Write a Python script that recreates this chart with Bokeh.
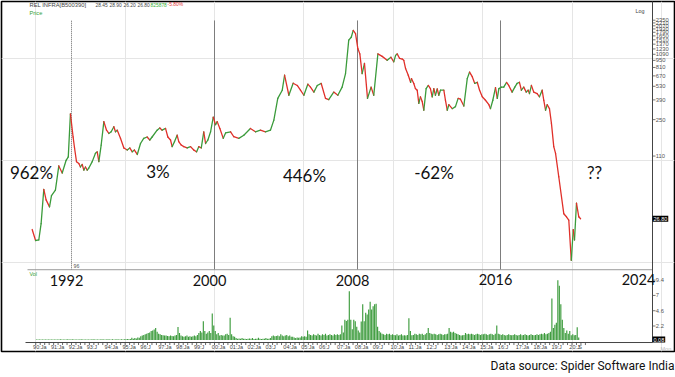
import math
from bokeh.plotting import figure
from bokeh.models import Range1d, LinearScale, Label, Title
from bokeh.core.properties import value
from bokeh.embed import file_html
from bokeh.resources import INLINE

# ---------------- data ----------------
header_name = "REL INFRA[B500390]"
header_values = ["28.45", "28.90", "26.20", "26.80", "825878", "-5.80%"]

period_bounds = [1992, 2000, 2008, 2016]
year_labels = ["1992", "2000", "2008", "2016", "2024"]
year_label_years = [1992, 2000, 2008, 2016, 2024]
period_labels = ["962%", "3%", "446%", "-62%", "??"]

price_ticks = [110, 250, 390, 530, 670, 810, 950, 1090, 1230, 1370, 1510, 1650, 1790, 1930, 2070, 2210, 2350]
vol_ticks = [2.2, 4.6, 7, 9.4]
vol_last = 0.08

date_label_years = list(range(1990, 2021))
date_labels = ["90:Ja", "91:Ja", "92:Ja", "93:J", "94:Ja", "95:Ja", "96:J", "97:Ja", "98:Ja", "99:J",
               "00:Ja", "01:Ja", "02:Ja", "03:J", "04:Ja", "05:Ja", "06:J", "07:Ja", "08:Ja", "09:J",
               "10:Ja", "11:Ja", "12:J", "13:Ja", "14:Ja", "15:Ja", "16:J", "17:Ja", "18:Ja", "19:J", "20:J"]

# price (decimal year, price)
price_t_a = [1989.80, 1989.99, 1990.17, 1990.30, 1990.45, 1990.58, 1990.77, 1990.88, 1991.10, 1991.29,
             1991.48, 1991.70, 1991.82, 1991.94, 1992.09, 1992.17, 1992.28, 1992.41, 1992.50, 1992.60,
             1992.69, 1992.78, 1992.88, 1992.97, 1993.16, 1993.34, 1993.44, 1993.53, 1993.66, 1993.81,
             1993.96, 1994.09, 1994.22, 1994.37, 1994.46, 1994.56, 1994.74, 1994.93, 1995.12, 1995.26,
             1995.40, 1995.52, 1995.68, 1995.86, 1996.04, 1996.23, 1996.38, 1996.51, 1996.79, 1996.94,
             1997.07, 1997.26, 1997.39, 1997.54, 1997.63, 1997.76, 1997.91, 1998.00, 1998.14, 1998.28,
             1998.47, 1998.66, 1998.84, 1999.00, 1999.12, 1999.26, 1999.40, 1999.50, 1999.63, 1999.78,
             1999.93]
price_v_a = [21, 16.4, 16.6, 24, 52, 41, 35, 45, 51, 88,
             75, 100, 108, 285, 169, 132, 97, 93, 86, 91,
             80, 86, 80, 84, 97, 117, 121, 97, 141, 239,
             197, 183, 190, 213, 190, 197, 164, 132, 126, 132,
             121, 126, 114, 146, 164, 169, 158, 169, 197, 207,
             197, 205, 169, 158, 136, 152, 176, 152, 141, 136,
             132, 136, 126, 121, 136, 132, 190, 146, 158, 190,
             264]

price_t_b = [2000.06, 2000.15, 2000.30, 2000.49, 2000.62, 2000.90, 2001.08, 2001.36, 2001.64, 2002.01,
             2002.29, 2002.57, 2002.85, 2003.13, 2003.32, 2003.54, 2003.79, 2003.92, 2004.16, 2004.40,
             2004.63, 2004.81, 2005.00, 2005.22, 2005.37, 2005.56, 2005.75, 2005.97, 2006.21, 2006.39,
             2006.67, 2006.90, 2007.14, 2007.33, 2007.51, 2007.65, 2007.76, 2007.89, 2008.02, 2008.13,
             2008.26, 2008.39, 2008.56, 2008.76, 2008.91, 2009.14, 2009.38, 2009.66, 2009.87]
price_v_b = [223, 239, 205, 164, 185, 190, 170, 164, 176, 205,
             190, 197, 190, 197, 247, 404, 485, 680, 433, 568,
             540, 485, 433, 556, 520, 465, 540, 565, 404, 392,
             465, 433, 520, 706, 1500, 1600, 1867, 1740, 1240, 1100,
             706, 890, 404, 520, 433, 1100, 1040, 951, 1020]

price_t_c = [2010.03, 2010.13, 2010.22, 2010.35, 2010.50, 2010.59, 2010.69, 2010.84, 2010.97, 2011.02,
             2011.15, 2011.24, 2011.34, 2011.43, 2011.52, 2011.62, 2011.71, 2011.84, 2011.96, 2012.08,
             2012.18, 2012.27, 2012.36, 2012.46, 2012.55, 2012.64, 2012.83, 2012.92, 2013.02, 2013.11,
             2013.30, 2013.48, 2013.63, 2013.76, 2013.95, 2014.14, 2014.27, 2014.42, 2014.56, 2014.70,
             2014.83, 2014.98, 2015.16, 2015.35, 2015.44, 2015.57, 2015.72, 2015.82, 2015.91, 2016.06,
             2016.18, 2016.34, 2016.46, 2016.65, 2016.80, 2016.93, 2017.06, 2017.17, 2017.30, 2017.44,
             2017.55, 2017.62, 2017.73, 2017.86, 2018.05, 2018.18, 2018.33, 2018.42, 2018.52, 2018.61,
             2018.74, 2018.85, 2018.98, 2019.08, 2019.26, 2019.54, 2019.69, 2019.82, 2019.96, 2020.07,
             2020.14, 2020.25, 2020.38, 2020.48]
price_v_c = [920, 1064, 1100, 996, 980, 951, 790, 680, 580, 630,
             565, 503, 485, 361, 418, 376, 309, 503, 540, 503,
             418, 503, 433, 500, 433, 485, 485, 387, 309, 350,
             320, 335, 404, 396, 340, 630, 730, 658, 565, 580,
             485, 418, 387, 350, 320, 387, 513, 404, 503, 520,
             520, 578, 540, 465, 520, 565, 580, 485, 520, 465,
             485, 450, 540, 465, 450, 418, 485, 387, 309, 350,
             320, 230, 136, 117, 69, 30, 28, 26, 10.5, 21,
             16.6, 38, 28, 26.8]

# monthly volume (millions)
vol_1990 = [0.08, 0.1, 0.08, 0.1, 0.1, 0.08, 0.1, 0.1, 0.08, 0.1, 0.1, 0.08]
vol_1991 = [0.1, 0.08, 0.1, 0.1, 0.12, 0.1, 0.08, 0.1, 0.1, 0.12, 0.1, 0.1]
vol_1992 = [0.12, 0.1, 0.1, 0.08, 0.1, 0.1, 0.12, 0.1, 0.08, 0.1, 0.1, 0.1]
vol_1993 = [0.1, 0.1, 0.12, 0.1, 0.1, 0.08, 0.1, 0.1, 0.12, 0.1, 0.1, 0.1]
vol_1994 = [0.12, 0.1, 0.1, 0.12, 0.1, 0.1, 0.12, 0.1, 0.1, 0.12, 0.1, 0.12]
vol_1995 = [0.12, 0.15, 0.12, 0.15, 0.35, 0.2, 0.3, 0.25, 0.4, 0.35, 0.6, 0.7]
vol_1996 = [0.8, 0.9, 1.0, 1.1, 1.2, 1.4, 1.5, 1.65, 1.9, 1.3, 1.0, 0.9]
vol_1997 = [0.8, 0.75, 0.7, 0.7, 0.65, 0.6, 0.7, 0.65, 0.6, 0.7, 0.8, 2.05]
vol_1998 = [1.1, 0.7, 0.6, 0.5, 0.6, 0.7, 0.5, 0.6, 0.5, 0.6, 0.7, 0.6]
vol_1999 = [0.8, 1.1, 1.4, 1.2, 2.95, 1.4, 1.0, 1.2, 1.4, 1.1, 4.15, 2.3]
vol_2000 = [1.4, 0.9, 1.1, 0.7, 0.8, 0.7, 0.7, 0.9, 1.0, 0.8, 3.5, 0.9]
vol_2001 = [0.6, 0.5, 0.3, 0.2, 0.25, 0.2, 0.3, 0.2, 0.2, 0.15, 0.2, 0.25]
vol_2002 = [0.2, 0.3, 0.15, 0.2, 0.2, 0.35, 0.2, 0.15, 0.2, 0.2, 0.3, 0.2]
vol_2003 = [0.2, 0.3, 0.6, 0.7, 0.6, 0.65, 0.7, 0.6, 0.9, 0.7, 0.6, 0.7]
vol_2004 = [0.8, 0.6, 0.7, 0.5, 0.5, 0.4, 0.3, 0.4, 0.35, 0.4, 0.6, 0.5]
vol_2005 = [0.6, 0.5, 1.5, 0.9, 0.8, 0.7, 0.9, 0.8, 0.7, 1.0, 0.8, 0.7]
vol_2006 = [0.9, 0.8, 1.0, 0.7, 0.8, 0.9, 0.8, 0.7, 0.9, 0.8, 0.9, 0.8]
vol_2007 = [0.9, 2.3, 1.2, 3.2, 3.0, 3.2, 7.65, 3.2, 1.7, 3.2, 2.95, 2.1]
vol_2008 = [1.5, 1.2, 2.9, 5.6, 2.95, 4.3, 4.0, 4.8, 6.0, 4.8, 5.3, 5.6]
vol_2009 = [5.7, 2.1, 1.4, 1.2, 1.0, 0.9, 0.8, 1.0, 0.9, 1.0, 0.8, 0.9]
vol_2010 = [0.8, 0.75, 0.9, 0.7, 0.8, 0.9, 0.7, 0.75, 0.7, 0.8, 3.4, 1.4]
vol_2011 = [0.75, 0.8, 1.0, 0.9, 0.8, 1.0, 0.9, 1.0, 0.8, 0.9, 1.1, 1.9]
vol_2012 = [1.1, 1.0, 0.9, 1.0, 0.9, 0.8, 0.9, 1.0, 0.9, 0.8, 0.9, 0.9]
vol_2013 = [1.0, 1.9, 1.3, 1.2, 1.3, 1.1, 1.0, 0.9, 0.8, 0.7, 0.75, 0.8]
vol_2014 = [1.1, 0.9, 1.0, 0.9, 1.0, 0.9, 0.8, 0.9, 1.0, 0.9, 0.8, 0.9]
vol_2015 = [0.9, 1.0, 0.9, 0.8, 0.9, 1.0, 0.9, 0.8, 1.0, 2.3, 1.0, 0.9]
vol_2016 = [0.8, 0.9, 0.8, 0.7, 0.8, 0.9, 0.8, 0.75, 0.8, 0.9, 0.8, 0.7]
vol_2017 = [0.8, 0.9, 0.75, 0.8, 0.9, 0.8, 0.7, 0.8, 0.9, 0.8, 0.75, 0.8]
vol_2018 = [0.9, 0.8, 0.9, 1.0, 0.9, 1.1, 0.9, 1.0, 1.1, 1.3, 6.5, 1.9]
vol_2019 = [2.4, 2.7, 9.4, 8.5, 5.6, 3.2, 1.9, 1.1, 1.5, 1.0, 1.4, 0.75]
vol_2020 = [0.9, 0.75, 0.8, 2.0, 0.4]

vol_years = list(range(1990, 2021))
vol_by_year = [vol_1990, vol_1991, vol_1992, vol_1993, vol_1994, vol_1995, vol_1996, vol_1997,
               vol_1998, vol_1999, vol_2000, vol_2001, vol_2002, vol_2003, vol_2004, vol_2005,
               vol_2006, vol_2007, vol_2008, vol_2009, vol_2010, vol_2011, vol_2012, vol_2013,
               vol_2014, vol_2015, vol_2016, vol_2017, vol_2018, vol_2019, vol_2020]

# ---------------- layout helpers (pixel -> data, for annotations/decoration) ----------------
X0_PX, X0_T, PX_PER_YEAR = 214.0, 2000.0, 17.875
Y_REF_PX, Y_REF_P, PX_PER_LN = 156.0, 110.0, 44.5
VOL_ZERO_PX, PX_PER_VOL = 340.5, 6.39
FRAME_L, FRAME_R, FRAME_T, FRAME_B = 1, 674, 1, 352


def tx(px):
    return X0_T + (px - X0_PX) / PX_PER_YEAR


def py(px):
    return Y_REF_P * math.exp((Y_REF_PX - px) / PX_PER_LN)


def vy(px):
    return (VOL_ZERO_PX - px) / PX_PER_VOL


GREEN = "#3b9b3b"
RED = "#e0302a"
BAR = "#3c9b3c"
AX = "#555555"
SMALL = value("Liberation Sans")

p = figure(width=675, height=377,
           x_range=Range1d(tx(FRAME_L), tx(FRAME_R)),
           y_range=Range1d(py(FRAME_B), py(FRAME_T)),
           y_axis_type="log", x_axis_location=None, y_axis_location=None,
           output_backend="svg", toolbar_location=None,
           min_border_left=FRAME_L, min_border_right=675 - FRAME_R,
           min_border_top=FRAME_T, min_border_bottom=377 - FRAME_B,
           background_fill_color="white", border_fill_color="white",
           outline_line_color="black", outline_line_width=1.6)
p.extra_y_ranges = {"vol": Range1d(vy(FRAME_B), vy(FRAME_T))}
p.extra_y_scales = {"vol": LinearScale()}

# period boundary lines
p.segment(x0=period_bounds[:1], y0=py(270), x1=period_bounds[:1], y1=py(20),
          line_color="#666666", line_width=1, line_dash="1 1")
p.segment(x0=period_bounds[1:], y0=py(270), x1=period_bounds[1:], y1=py(20),
          line_color="#7d7d7d", line_width=1)

# panel separator, right axis line, bottom axis line
p.segment(x0=[tx(27)], y0=vy(270), x1=[tx(652)], y1=vy(270), line_color="#9a9a9a",
          line_width=1, y_range_name="vol")
p.segment(x0=[tx(652)], y0=vy(343), x1=[tx(652)], y1=vy(0), line_color="#444444",
          line_width=1, y_range_name="vol")
p.segment(x0=[tx(25)], y0=vy(343), x1=[tx(652)], y1=vy(343), line_color="#444444",
          line_width=1, y_range_name="vol")

# bottom date ticks / labels
quarter_ticks = [yr + q / 4 for yr in date_label_years for q in range(4)]
p.segment(x0=quarter_ticks, y0=vy(343), x1=quarter_ticks, y1=vy(345.5), line_color="#444444",
          line_width=0.8, y_range_name="vol")
p.text(x=[yr - 0.15 for yr in date_label_years], y=vy(347.8), text=date_labels,
       text_font=SMALL, text_font_size=value("5.5px"), text_color="#444444",
       text_align="left", text_baseline="middle", y_range_name="vol")
p.text(x=[2020.35], y=vy(347.8), text=["S"], text_font=SMALL, text_font_size=value("5.5px"),
       text_color="#444444", text_align="left", text_baseline="middle", y_range_name="vol")

# price axis ticks and labels (log)
p.segment(x0=tx(652), y0=price_ticks, x1=tx(655), y1=price_ticks, line_color=AX, line_width=0.8)
p.text(x=tx(655.3), y=price_ticks, text=[str(t) for t in price_ticks], text_font=SMALL,
       text_font_size=value("5.8px"), text_color=AX, text_align="left", text_baseline="middle")

# volume axis ticks and labels
p.segment(x0=tx(652), y0=vol_ticks, x1=tx(655), y1=vol_ticks, line_color=AX, line_width=0.8,
          y_range_name="vol")
p.text(x=tx(655.3), y=vol_ticks, text=[f"{t:g}" for t in vol_ticks], text_font=SMALL,
       text_font_size=value("5.8px"), text_color=AX, text_align="left", text_baseline="middle",
       y_range_name="vol")

# volume bars
vx, vv = [], []
for yr, months in zip(vol_years, vol_by_year):
    for i, v in enumerate(months):
        vx.append(yr + (i + 0.5) / 12)
        vv.append(v)
p.vbar(x=vx, top=vv, bottom=0, width=0.064, fill_color=BAR, line_color=None, y_range_name="vol")

# price line, coloured by direction
pt = price_t_a + price_t_b + price_t_c
pv = price_v_a + price_v_b + price_v_c
seg_colors = [GREEN if b >= a else RED for a, b in zip(pv[:-1], pv[1:])]
p.segment(x0=pt[:-1], y0=pv[:-1], x1=pt[1:], y1=pv[1:], line_color=seg_colors,
          line_width=1.3, line_cap="round")

# last value boxes
p.add_layout(Label(x=tx(652), y=pv[-1], text=f"{pv[-1]:.2f}", text_font="Liberation Sans",
                   text_font_size="5.5px", text_color="white", background_fill_color="black",
                   text_align="left", text_baseline="middle", padding=1))
p.add_layout(Label(x=tx(652), y=vol_last, y_range_name="vol", text=f"{vol_last:.2f}",
                   text_font="Liberation Sans", text_font_size="5.5px", text_color="white",
                   background_fill_color="black", text_align="left", text_baseline="middle",
                   padding=1))

# header texts
p.text(x=[tx(29)], y=py(4.5), text=[header_name], text_font=SMALL,
       text_font_size=value("5.8px"), text_color="#444444", text_align="left",
       text_baseline="middle")
header_px = [95, 109, 123, 137, 150, 167]
header_colors = ["#444444"] * 4 + ["#35b035", "#e53935"]
p.text(x=[tx(x) for x in header_px], y=py(4.5), text=header_values, text_font=SMALL,
       text_font_size=value("4.9px"), text_color=header_colors, text_align="left",
       text_baseline="middle")
p.text(x=[tx(29)], y=py(12.5), text=["Price"], text_font=SMALL, text_font_size=value("5.6px"),
       text_color="#35a035", text_align="left", text_baseline="middle")
p.text(x=[tx(635)], y=py(11), text=["Log"], text_font=SMALL, text_font_size=value("5.4px"),
       text_color="#444444", text_align="left", text_baseline="middle")
p.text(x=[tx(29)], y=vy(274), text=["Vol"], text_font=SMALL, text_font_size=value("5.4px"),
       text_color="#35a035", text_align="left", text_baseline="middle", y_range_name="vol")
p.text(x=[tx(73)], y=vy(266), text=["96"], text_font=SMALL, text_font_size=value("5.2px"),
       text_color="#555555", text_align="left", text_baseline="middle", y_range_name="vol")
p.text(x=[tx(660)], y=vy(349), text=["Mon"], text_font=SMALL, text_font_size=value("5.5px"),
       text_color="#bbbbbb", text_align="left", text_baseline="middle", y_range_name="vol")

# period change annotations
period_px = [(31, 172), (157.5, 171), (304, 175.5), (433.5, 172), (594, 172)]
p.text(x=[tx(a) for a, b in period_px], y=[py(b) for a, b in period_px], text=period_labels,
       text_font=value("Lato"), text_font_size=value("17px"), text_color="#111111",
       text_align="center", text_baseline="middle")

# big year labels
year_px_y = [281, 281, 281, 279.5, 280]
p.text(x=[y - 0.28 for y in year_label_years], y=[vy(b) for b in year_px_y], text=year_labels,
       text_font=value("Lato"), text_font_size=value("14.5px"), text_color="#111111",
       text_align="center", text_baseline="middle", y_range_name="vol")

p.add_layout(Title(text="Data source: Spider Software India", align="right", text_font="Roboto",
                   text_font_size="12px", text_font_style="normal", text_color="#111111"), "below")

open("out.html", "w").write(file_html(p, INLINE))
